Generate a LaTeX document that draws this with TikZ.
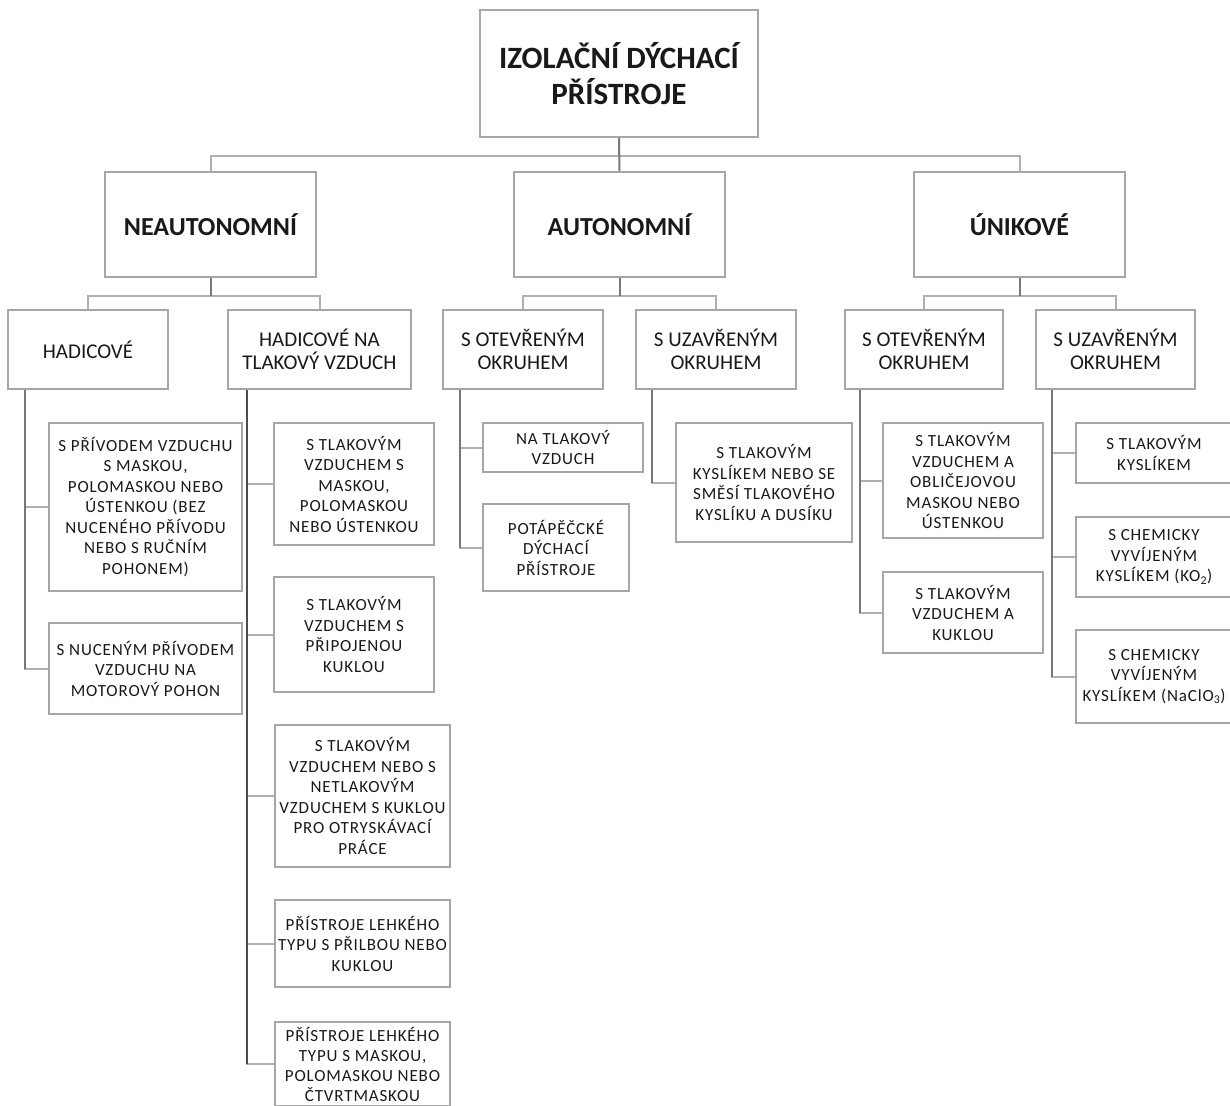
\documentclass[tikz,border=0pt]{standalone}
\usepackage{fontspec}
\setmainfont{Carlito}
\newfontfamily\spacedfont[LetterSpace=5]{Carlito}
\definecolor{boxgray}{RGB}{166,166,166}
\definecolor{stubgray}{RGB}{176,176,176}
\definecolor{trunkgray}{RGB}{120,120,120}
\definecolor{txt}{RGB}{25,25,25}
\tikzset{
  bx/.style={draw=boxgray, line width=2.5pt, fill=white, inner sep=0pt, align=center, text=txt},
  topbox/.style={bx, font=\bfseries\fontsize{31}{36}\selectfont},
  lvlone/.style={bx, font=\bfseries\fontsize{26}{30}\selectfont},
  lvltwo/.style={bx, font=\fontsize{21}{23.5}\selectfont},
  leaf/.style={bx, font=\spacedfont\fontsize{17}{20.5}\selectfont},
  bus/.style={draw=stubgray, line width=2pt},
  trunk/.style={draw=trunkgray, line width=2pt},
  stub/.style={draw=stubgray, line width=2pt}
}
\begin{document}
\begin{tikzpicture}[x=1pt,y=-1pt]
\useasboundingbox (0,0) rectangle (1230,1105);
\fill[white] (0,0) rectangle (1230,1105);
\clip (0,0) rectangle (1230,1105);

% top
\node[topbox, minimum width=278pt, minimum height=127pt] (top) at (619,73.5) {IZOLAČNÍ DÝCHACÍ\\PŘÍSTROJE};

% level 1
\node[lvlone, minimum width=211pt, minimum height=105pt] (neaut) at (210.5,224.5) {NEAUTONOMNÍ};
\node[lvlone, minimum width=211pt, minimum height=105pt] (aut) at (619.5,224.5) {AUTONOMNÍ};
\node[lvlone, minimum width=211pt, minimum height=105pt] (unik) at (1019.5,224.5) {ÚNIKOVÉ};

% level 2
\node[lvltwo, minimum width=160pt, minimum height=79pt] (had) at (88,349.5) {HADICOVÉ};
\node[lvltwo, minimum width=183pt, minimum height=79pt] (hadt) at (319.5,349.5) {HADICOVÉ NA\\TLAKOVÝ VZDUCH};
\node[lvltwo, minimum width=160pt, minimum height=79pt] (a1) at (523,349.5) {S OTEVŘENÝM\\OKRUHEM};
\node[lvltwo, minimum width=160pt, minimum height=79pt] (a2) at (716,349.5) {S UZAVŘENÝM\\OKRUHEM};
\node[lvltwo, minimum width=158pt, minimum height=79pt] (u1) at (924,349.5) {S OTEVŘENÝM\\OKRUHEM};
\node[lvltwo, minimum width=159pt, minimum height=79pt] (u2) at (1115.5,349.5) {S UZAVŘENÝM\\OKRUHEM};

% leaves under HADICOVÉ
\node[leaf, minimum width=193pt, minimum height=168pt] (h1) at (145.5,507) {S PŘÍVODEM VZDUCHU\\S MASKOU,\\POLOMASKOU NEBO\\ÚSTENKOU (BEZ\\NUCENÉHO PŘÍVODU\\NEBO S RUČNÍM\\POHONEM)};
\node[leaf, minimum width=193pt, minimum height=91pt] (h2) at (145.5,668.5) {S NUCENÝM PŘÍVODEM\\VZDUCHU NA\\MOTOROVÝ POHON};

% leaves under HADICOVÉ NA TLAKOVÝ VZDUCH
\node[leaf, minimum width=160pt, minimum height=122pt] (t1) at (354,484) {S TLAKOVÝM\\VZDUCHEM S\\MASKOU,\\POLOMASKOU\\NEBO ÚSTENKOU};
\node[leaf, minimum width=160pt, minimum height=115pt] (t2) at (354,634.5) {S TLAKOVÝM\\VZDUCHEM S\\PŘIPOJENOU\\KUKLOU};
\node[leaf, minimum width=175pt, minimum height=142pt] (t3) at (362.5,796) {S TLAKOVÝM\\VZDUCHEM NEBO S\\NETLAKOVÝM\\VZDUCHEM S KUKLOU\\PRO OTRYSKÁVACÍ\\PRÁCE};
\node[leaf, minimum width=175pt, minimum height=87pt] (t4) at (362.5,943.5) {PŘÍSTROJE LEHKÉHO\\TYPU S PŘILBOU NEBO\\KUKLOU};
\node[leaf, minimum width=175pt, minimum height=84pt, font=\spacedfont\fontsize{17}{20}\selectfont] (t5) at (362.5,1064) {PŘÍSTROJE LEHKÉHO\\TYPU S MASKOU,\\POLOMASKOU NEBO\\ČTVRTMASKOU};

% leaves under AUTONOMNÍ
\node[leaf, minimum width=160pt, minimum height=49pt] (a1c1) at (563,447.5) {NA TLAKOVÝ\\VZDUCH};
\node[leaf, minimum width=146pt, minimum height=87pt] (a1c2) at (556,547.5) {POTÁPĚČCKÉ\\DÝCHACÍ\\PŘÍSTROJE};
\node[leaf, minimum width=176pt, minimum height=119pt] (a2c1) at (764,482.5) {S TLAKOVÝM\\KYSLÍKEM NEBO SE\\SMĚSÍ TLAKOVÉHO\\KYSLÍKU A DUSÍKU};

% leaves under ÚNIKOVÉ
\node[leaf, minimum width=160pt, minimum height=115pt] (u1c1) at (963,480.5) {S TLAKOVÝM\\VZDUCHEM A\\OBLIČEJOVOU\\MASKOU NEBO\\ÚSTENKOU};
\node[leaf, minimum width=160pt, minimum height=81pt] (u1c2) at (963,612.5) {S TLAKOVÝM\\VZDUCHEM A\\KUKLOU};
\node[leaf, minimum width=156pt, minimum height=60pt] (u2c1) at (1154,453) {S TLAKOVÝM\\KYSLÍKEM};
\node[leaf, minimum width=156pt, minimum height=80pt] (u2c2) at (1154,557) {S CHEMICKY\\VYVÍJENÝM\\KYSLÍKEM (KO\textsubscript{2})};
\node[leaf, minimum width=156pt, minimum height=93pt] (u2c3) at (1154,676.5) {S CHEMICKY\\VYVÍJENÝM\\KYSLÍKEM (NaClO\textsubscript{3})};

% connectors top -> level 1
\draw[bus] (top.south) -- ++(0,18) -| (neaut.north);
\draw[bus] (top.south) -- ++(0,18) -| (unik.north);
\draw[trunk] (top.south) -- (aut.north);

% level 1 -> level 2
\draw[bus] (neaut.south) -- ++(0,18) -| (had.north);
\draw[bus] (neaut.south) -- ++(0,18) -| (hadt.north);
\draw[trunk] (neaut.south) -- ++(0,18);
\draw[bus] (aut.south) -- ++(0,18) -| (a1.north);
\draw[bus] (aut.south) -- ++(0,18) -| (a2.north);
\draw[trunk] (aut.south) -- ++(0,18);
\draw[bus] (unik.south) -- ++(0,18) -| (u1.north);
\draw[bus] (unik.south) -- ++(0,18) -| (u2.north);
\draw[trunk] (unik.south) -- ++(0,18);

% level 2 -> leaves
\draw[stub] ([xshift=18pt]had.south west) |- (h1.west);
\draw[stub] ([xshift=18pt]had.south west) |- (h2.west);
\draw[trunk] ([xshift=18pt]had.south west) -- ([xshift=18pt]had.south west |- h2.west);

\draw[stub] ([xshift=20pt]hadt.south west) |- (t1.west);
\draw[stub] ([xshift=20pt]hadt.south west) |- (t2.west);
\draw[stub] ([xshift=20pt]hadt.south west) |- (t3.west);
\draw[stub] ([xshift=20pt]hadt.south west) |- (t4.west);
\draw[stub] ([xshift=20pt]hadt.south west) |- (t5.west);
\draw[trunk, draw=black!70] ([xshift=20pt]hadt.south west) -- ([xshift=20pt]hadt.south west |- t5.west);

\draw[stub] ([xshift=18pt]a1.south west) |- (a1c1.west);
\draw[stub] ([xshift=18pt]a1.south west) |- (a1c2.west);
\draw[trunk] ([xshift=18pt]a1.south west) -- ([xshift=18pt]a1.south west |- a1c2.west);

\draw[stub] ([xshift=17pt]a2.south west) |- (a2c1.west);
\draw[trunk] ([xshift=17pt]a2.south west) -- ([xshift=17pt]a2.south west |- a2c1.west);

\draw[stub] ([xshift=16pt]u1.south west) |- (u1c1.west);
\draw[stub] ([xshift=16pt]u1.south west) |- (u1c2.west);
\draw[trunk] ([xshift=16pt]u1.south west) -- ([xshift=16pt]u1.south west |- u1c2.west);

\draw[stub] ([xshift=17pt]u2.south west) |- (u2c1.west);
\draw[stub] ([xshift=17pt]u2.south west) |- (u2c2.west);
\draw[stub] ([xshift=17pt]u2.south west) |- (u2c3.west);
\draw[trunk] ([xshift=17pt]u2.south west) -- ([xshift=17pt]u2.south west |- u2c3.west);
\end{tikzpicture}
\end{document}
